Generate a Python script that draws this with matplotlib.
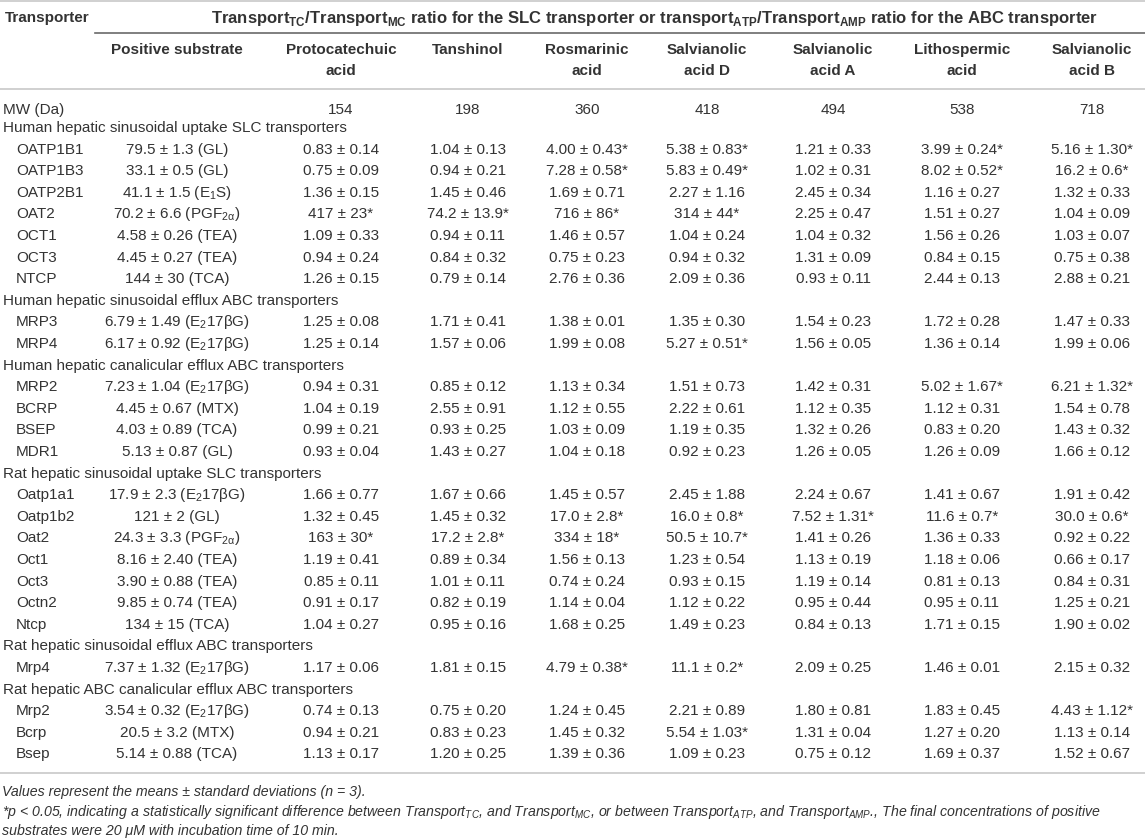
import matplotlib
matplotlib.use("Agg")
from matplotlib import pyplot as plt

plt.rcParams['font.family'] = ['Liberation Sans', 'DejaVu Sans']

# ---- data ----
compounds = ["Positive substrate", "Protocatechuic\nacid", "Tanshinol", "Rosmarinic\nacid",
             "Salvianolic\nacid D", "Salvianolic\nacid A", "Lithospermic\nacid", "Salvianolic\nacid B"]
mw = ["", "154", "198", "360", "418", "494", "538", "718"]

groups = ["Human hepatic sinusoidal uptake SLC transporters",
          "Human hepatic sinusoidal efflux ABC transporters",
          "Human hepatic canalicular efflux ABC transporters",
          "Rat hepatic sinusoidal uptake SLC transporters",
          "Rat hepatic sinusoidal efflux ABC transporters",
          "Rat hepatic ABC canalicular efflux ABC transporters"]
group_sizes = [7, 2, 4, 7, 1, 3]

transporters = ["OATP1B1", "OATP1B3", "OATP2B1", "OAT2", "OCT1", "OCT3", "NTCP",
                "MRP3", "MRP4",
                "MRP2", "BCRP", "BSEP", "MDR1",
                "Oatp1a1", "Oatp1b2", "Oat2", "Oct1", "Oct3", "Octn2", "Ntcp",
                "Mrp4",
                "Mrp2", "Bcrp", "Bsep"]

E2 = r"E$_\mathregular{2}$17βG"
PGF = r"PGF$_\mathregular{2α}$"
positive = ["79.5 ± 1.3 (GL)", "33.1 ± 0.5 (GL)", r"41.1 ± 1.5 (E$_\mathregular{1}$S)",
            "70.2 ± 6.6 (" + PGF + ")", "4.58 ± 0.26 (TEA)", "4.45 ± 0.27 (TEA)", "144 ± 30 (TCA)",
            "6.79 ± 1.49 (" + E2 + ")", "6.17 ± 0.92 (" + E2 + ")",
            "7.23 ± 1.04 (" + E2 + ")", "4.45 ± 0.67 (MTX)", "4.03 ± 0.89 (TCA)", "5.13 ± 0.87 (GL)",
            "17.9 ± 2.3 (" + E2 + ")", "121 ± 2 (GL)", "24.3 ± 3.3 (" + PGF + ")",
            "8.16 ± 2.40 (TEA)", "3.90 ± 0.88 (TEA)", "9.85 ± 0.74 (TEA)", "134 ± 15 (TCA)",
            "7.37 ± 1.32 (" + E2 + ")",
            "3.54 ± 0.32 (" + E2 + ")", "20.5 ± 3.2 (MTX)", "5.14 ± 0.88 (TCA)"]
protocatechuic = ["0.83 ± 0.14", "0.75 ± 0.09", "1.36 ± 0.15", "417 ± 23*", "1.09 ± 0.33",
                  "0.94 ± 0.24", "1.26 ± 0.15", "1.25 ± 0.08", "1.25 ± 0.14", "0.94 ± 0.31",
                  "1.04 ± 0.19", "0.99 ± 0.21", "0.93 ± 0.04", "1.66 ± 0.77", "1.32 ± 0.45",
                  "163 ± 30*", "1.19 ± 0.41", "0.85 ± 0.11", "0.91 ± 0.17", "1.04 ± 0.27",
                  "1.17 ± 0.06", "0.74 ± 0.13", "0.94 ± 0.21", "1.13 ± 0.17"]
tanshinol = ["1.04 ± 0.13", "0.94 ± 0.21", "1.45 ± 0.46", "74.2 ± 13.9*", "0.94 ± 0.11",
             "0.84 ± 0.32", "0.79 ± 0.14", "1.71 ± 0.41", "1.57 ± 0.06", "0.85 ± 0.12",
             "2.55 ± 0.91", "0.93 ± 0.25", "1.43 ± 0.27", "1.67 ± 0.66", "1.45 ± 0.32",
             "17.2 ± 2.8*", "0.89 ± 0.34", "1.01 ± 0.11", "0.82 ± 0.19", "0.95 ± 0.16",
             "1.81 ± 0.15", "0.75 ± 0.20", "0.83 ± 0.23", "1.20 ± 0.25"]
rosmarinic = ["4.00 ± 0.43*", "7.28 ± 0.58*", "1.69 ± 0.71", "716 ± 86*", "1.46 ± 0.57",
              "0.75 ± 0.23", "2.76 ± 0.36", "1.38 ± 0.01", "1.99 ± 0.08", "1.13 ± 0.34",
              "1.12 ± 0.55", "1.03 ± 0.09", "1.04 ± 0.18", "1.45 ± 0.57", "17.0 ± 2.8*",
              "334 ± 18*", "1.56 ± 0.13", "0.74 ± 0.24", "1.14 ± 0.04", "1.68 ± 0.25",
              "4.79 ± 0.38*", "1.24 ± 0.45", "1.45 ± 0.32", "1.39 ± 0.36"]
salv_d = ["5.38 ± 0.83*", "5.83 ± 0.49*", "2.27 ± 1.16", "314 ± 44*", "1.04 ± 0.24",
          "0.94 ± 0.32", "2.09 ± 0.36", "1.35 ± 0.30", "5.27 ± 0.51*", "1.51 ± 0.73",
          "2.22 ± 0.61", "1.19 ± 0.35", "0.92 ± 0.23", "2.45 ± 1.88", "16.0 ± 0.8*",
          "50.5 ± 10.7*", "1.23 ± 0.54", "0.93 ± 0.15", "1.12 ± 0.22", "1.49 ± 0.23",
          "11.1 ± 0.2*", "2.21 ± 0.89", "5.54 ± 1.03*", "1.09 ± 0.23"]
salv_a = ["1.21 ± 0.33", "1.02 ± 0.31", "2.45 ± 0.34", "2.25 ± 0.47", "1.04 ± 0.32",
          "1.31 ± 0.09", "0.93 ± 0.11", "1.54 ± 0.23", "1.56 ± 0.05", "1.42 ± 0.31",
          "1.12 ± 0.35", "1.32 ± 0.26", "1.26 ± 0.05", "2.24 ± 0.67", "7.52 ± 1.31*",
          "1.41 ± 0.26", "1.13 ± 0.19", "1.19 ± 0.14", "0.95 ± 0.44", "0.84 ± 0.13",
          "2.09 ± 0.25", "1.80 ± 0.81", "1.31 ± 0.04", "0.75 ± 0.12"]
lithospermic = ["3.99 ± 0.24*", "8.02 ± 0.52*", "1.16 ± 0.27", "1.51 ± 0.27", "1.56 ± 0.26",
                "0.84 ± 0.15", "2.44 ± 0.13", "1.72 ± 0.28", "1.36 ± 0.14", "5.02 ± 1.67*",
                "1.12 ± 0.31", "0.83 ± 0.20", "1.26 ± 0.09", "1.41 ± 0.67", "11.6 ± 0.7*",
                "1.36 ± 0.33", "1.18 ± 0.06", "0.81 ± 0.13", "0.95 ± 0.11", "1.71 ± 0.15",
                "1.46 ± 0.01", "1.83 ± 0.45", "1.27 ± 0.20", "1.69 ± 0.37"]
salv_b = ["5.16 ± 1.30*", "16.2 ± 0.6*", "1.32 ± 0.33", "1.04 ± 0.09", "1.03 ± 0.07",
          "0.75 ± 0.38", "2.88 ± 0.21", "1.47 ± 0.33", "1.99 ± 0.06", "6.21 ± 1.32*",
          "1.54 ± 0.78", "1.43 ± 0.32", "1.66 ± 0.12", "1.91 ± 0.42", "30.0 ± 0.6*",
          "0.92 ± 0.22", "0.66 ± 0.17", "0.84 ± 0.31", "1.25 ± 0.21", "1.90 ± 0.02",
          "2.15 ± 0.32", "4.43 ± 1.12*", "1.13 ± 0.14", "1.52 ± 0.67"]

title = (r"Transport$_\mathregular{TC}$/Transport$_\mathregular{MC}$ ratio for the SLC transporter or "
         r"transport$_\mathregular{ATP}$/Transport$_\mathregular{AMP}$ ratio for the ABC transporter")
note1 = "Values represent the means ± standard deviations (n = 3)."
note2 = (r"*p < 0.05, indicating a statistically significant difference between Transport$_\mathregular{TC}$, "
         r"and Transport$_\mathregular{MC}$, or between Transport$_\mathregular{ATP}$, and "
         r"Transport$_\mathregular{AMP}$., The final concentrations of positive")
note3 = "substrates were 20 μM with incubation time of 10 min."

# ---- layout ----
col_x = [177, 341, 468, 587, 707, 833, 962, 1092]
txt = '#333333'
fs = 11

fig = plt.figure(figsize=(11.45, 8.38), dpi=100)
ax = fig.add_axes([0, 0, 1, 1])
ax.set_xlim(0, 1145)
ax.set_ylim(838, 0)
ax.axis('off')

# rules
ax.plot([0, 1145], [1, 1], color='#c8c8c8', lw=1.2)
ax.plot([95, 1145], [33, 33], color='#6a6a6a', lw=1.2)
ax.plot([0, 1145], [89, 89], color='#c8c8c8', lw=1.2)
ax.plot([0, 1145], [773, 773], color='#c8c8c8', lw=1.2)

# headers
ax.text(5, 18, "Transporter", fontsize=fs, fontweight='bold', color=txt, va='center')
ax.text(655, 18, title, fontsize=12, fontweight='bold', color=txt, va='center', ha='center')
for x, name in zip(col_x, compounds):
    lines = name.split("\n")
    for k, line in enumerate(lines):
        ax.text(x, 50 + 21 * k, line, fontsize=fs, fontweight='bold', color=txt,
                va='center', ha='center')

# MW row
ymw = 110
ax.text(3, ymw, "MW (Da)", fontsize=fs, color=txt, va='center')
for x, v in zip(col_x, mw):
    ax.text(x, ymw, v, fontsize=fs, color=txt, va='center', ha='center')

# body
columns = [positive, protocatechuic, tanshinol, rosmarinic, salv_d, salv_a, lithospermic, salv_b]
y0, dy = 128, 21.6
row = 0
i = 0
for g, n in zip(groups, group_sizes):
    ax.text(3, y0 + row * dy, g, fontsize=fs, color=txt, va='center')
    row += 1
    for _ in range(n):
        y = y0 + row * dy
        ax.text(16, y, transporters[i], fontsize=fs, color=txt, va='center')
        for x, col in zip(col_x, columns):
            ax.text(x, y, col[i], fontsize=fs, color=txt, va='center', ha='center')
        row += 1
        i += 1

# footnotes
for y, note in zip([792, 812, 831], [note1, note2, note3]):
    ax.text(2, y, note, fontsize=10.2, style='italic', color=txt, va='center')

fig.savefig("out.png", dpi=100)
